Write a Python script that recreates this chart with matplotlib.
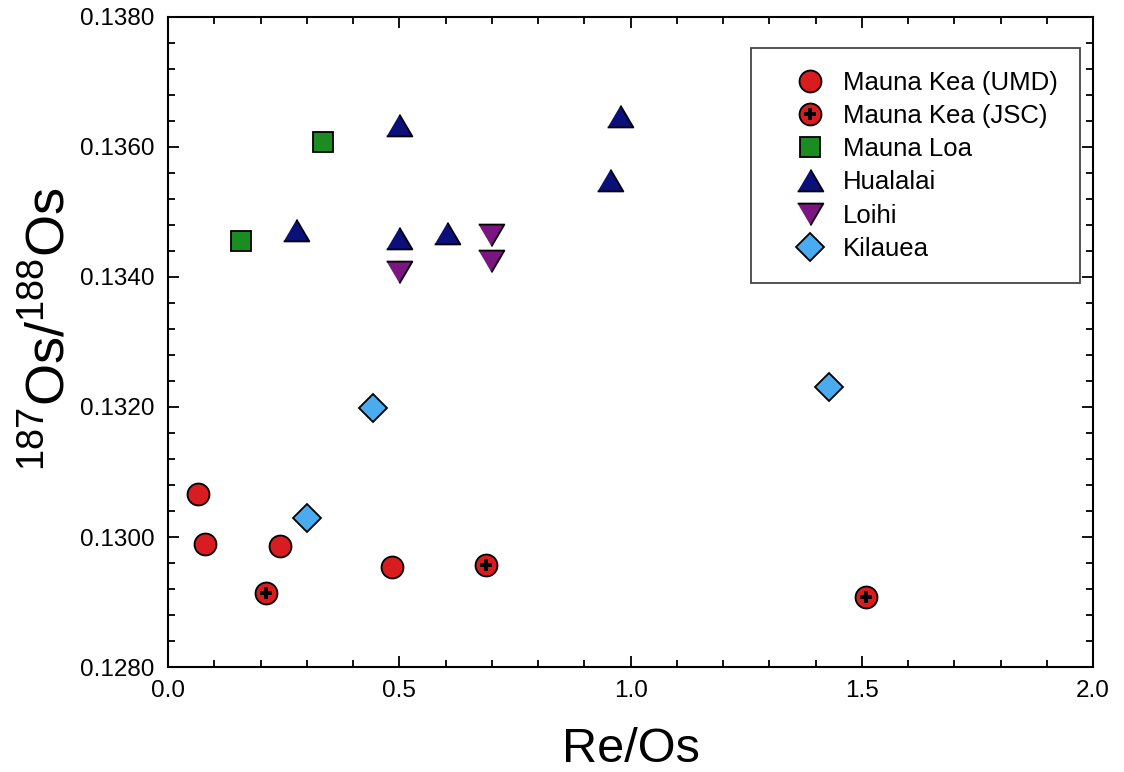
import matplotlib
matplotlib.use("Agg")
import matplotlib.pyplot as plt
from matplotlib.legend_handler import HandlerTuple
from matplotlib.ticker import MultipleLocator, FormatStrFormatter

plt.rcParams['font.family'] = ['Liberation Sans', 'DejaVu Sans']
plt.rcParams['mathtext.fontset'] = 'custom'
plt.rcParams['mathtext.rm'] = 'Liberation Sans'
plt.rcParams['mathtext.it'] = 'Liberation Sans'

# data
umd_x = [0.065, 0.080, 0.243, 0.485]
umd_y = [0.13066, 0.12989, 0.12986, 0.12954]

jsc_x = [0.212, 0.688, 1.508]
jsc_y = [0.12914, 0.12957, 0.12907]

loa_x = [0.158, 0.336]
loa_y = [0.13456, 0.13608]

hual_x = [0.276, 0.499, 0.499, 0.603, 0.956, 0.977]
hual_y = [0.13473, 0.13634, 0.13460, 0.13468, 0.13549, 0.13647]

loihi_x = [0.499, 0.698, 0.698]
loihi_y = [0.13407, 0.13424, 0.13465]

kil_x = [0.300, 0.444, 1.429]
kil_y = [0.13030, 0.13198, 0.13231]

labels = ['Mauna Kea (UMD)', 'Mauna Kea (JSC)', 'Mauna Loa', 'Hualalai', 'Loihi', 'Kilauea']

red = '#d81c20'
green = '#1a8c22'
navy = '#0b0f7a'
purple = '#7a1582'
lblue = '#4aacef'

tri_up = [(-1, -0.85), (1, -0.85), (0, 0.85)]
tri_dn = [(-1, 0.85), (1, 0.85), (0, -0.85)]

fig = plt.figure(figsize=(11.24, 7.72), dpi=100)
ax = fig.add_axes([0.1495, 0.136, 0.823, 0.842])

ec = dict(markeredgecolor='black', markeredgewidth=1.3, linestyle='none')

h_umd, = ax.plot(umd_x, umd_y, marker='o', ms=15.8, color=red, **ec)
h_jsc, = ax.plot(jsc_x, jsc_y, marker='o', ms=15.8, color=red, **ec)
h_plus, = ax.plot(jsc_x, jsc_y, marker='P', ms=8, color='black', markeredgewidth=0, linestyle='none')
h_loa, = ax.plot(loa_x, loa_y, marker='s', ms=14.5, color=green, **ec)
h_hual, = ax.plot(hual_x, hual_y, marker=tri_up, ms=18.5, color=navy, **ec)
h_loihi, = ax.plot(loihi_x, loihi_y, marker=tri_dn, ms=18.5, color=purple, **ec)
h_kil, = ax.plot(kil_x, kil_y, marker='D', ms=14.5, color=lblue, **ec)

ax.set_xlim(0, 2.0)
ax.set_ylim(0.128, 0.138)
ax.xaxis.set_major_locator(MultipleLocator(0.5))
ax.xaxis.set_minor_locator(MultipleLocator(0.1))
ax.yaxis.set_major_locator(MultipleLocator(0.002))
ax.yaxis.set_minor_locator(MultipleLocator(0.0004))
ax.xaxis.set_major_formatter(FormatStrFormatter('%.1f'))
ax.yaxis.set_major_formatter(FormatStrFormatter('%.4f'))
ax.tick_params(which='both', direction='in', top=True, right=True, width=1.3, labelsize=17.5)
ax.tick_params(axis='y', pad=10)
ax.tick_params(axis='x', pad=9)
ax.tick_params(which='major', length=8)
ax.tick_params(which='minor', length=5)
for s in ax.spines.values():
    s.set_linewidth(1.5)

ax.set_xlabel('Re/Os', fontsize=35, labelpad=18)
ax.set_ylabel(r'$^{187}$Os/$^{188}$Os', fontsize=39)
ax.yaxis.set_label_coords(-0.10, 0.52)

leg = ax.legend([h_umd, (h_jsc, h_plus), h_loa, h_hual, h_loihi, h_kil], labels,
                handler_map={tuple: HandlerTuple(ndivide=1, pad=0)},
                loc='upper right', bbox_to_anchor=(0.986, 0.952), borderaxespad=0,
                fontsize=18.5, fancybox=False, edgecolor='#444444', framealpha=1,
                labelspacing=0.36, handlelength=2.86, handletextpad=-0.15, borderpad=0.87)
leg.get_frame().set_linewidth(1.3)

fig.savefig('out.png', dpi=100)
